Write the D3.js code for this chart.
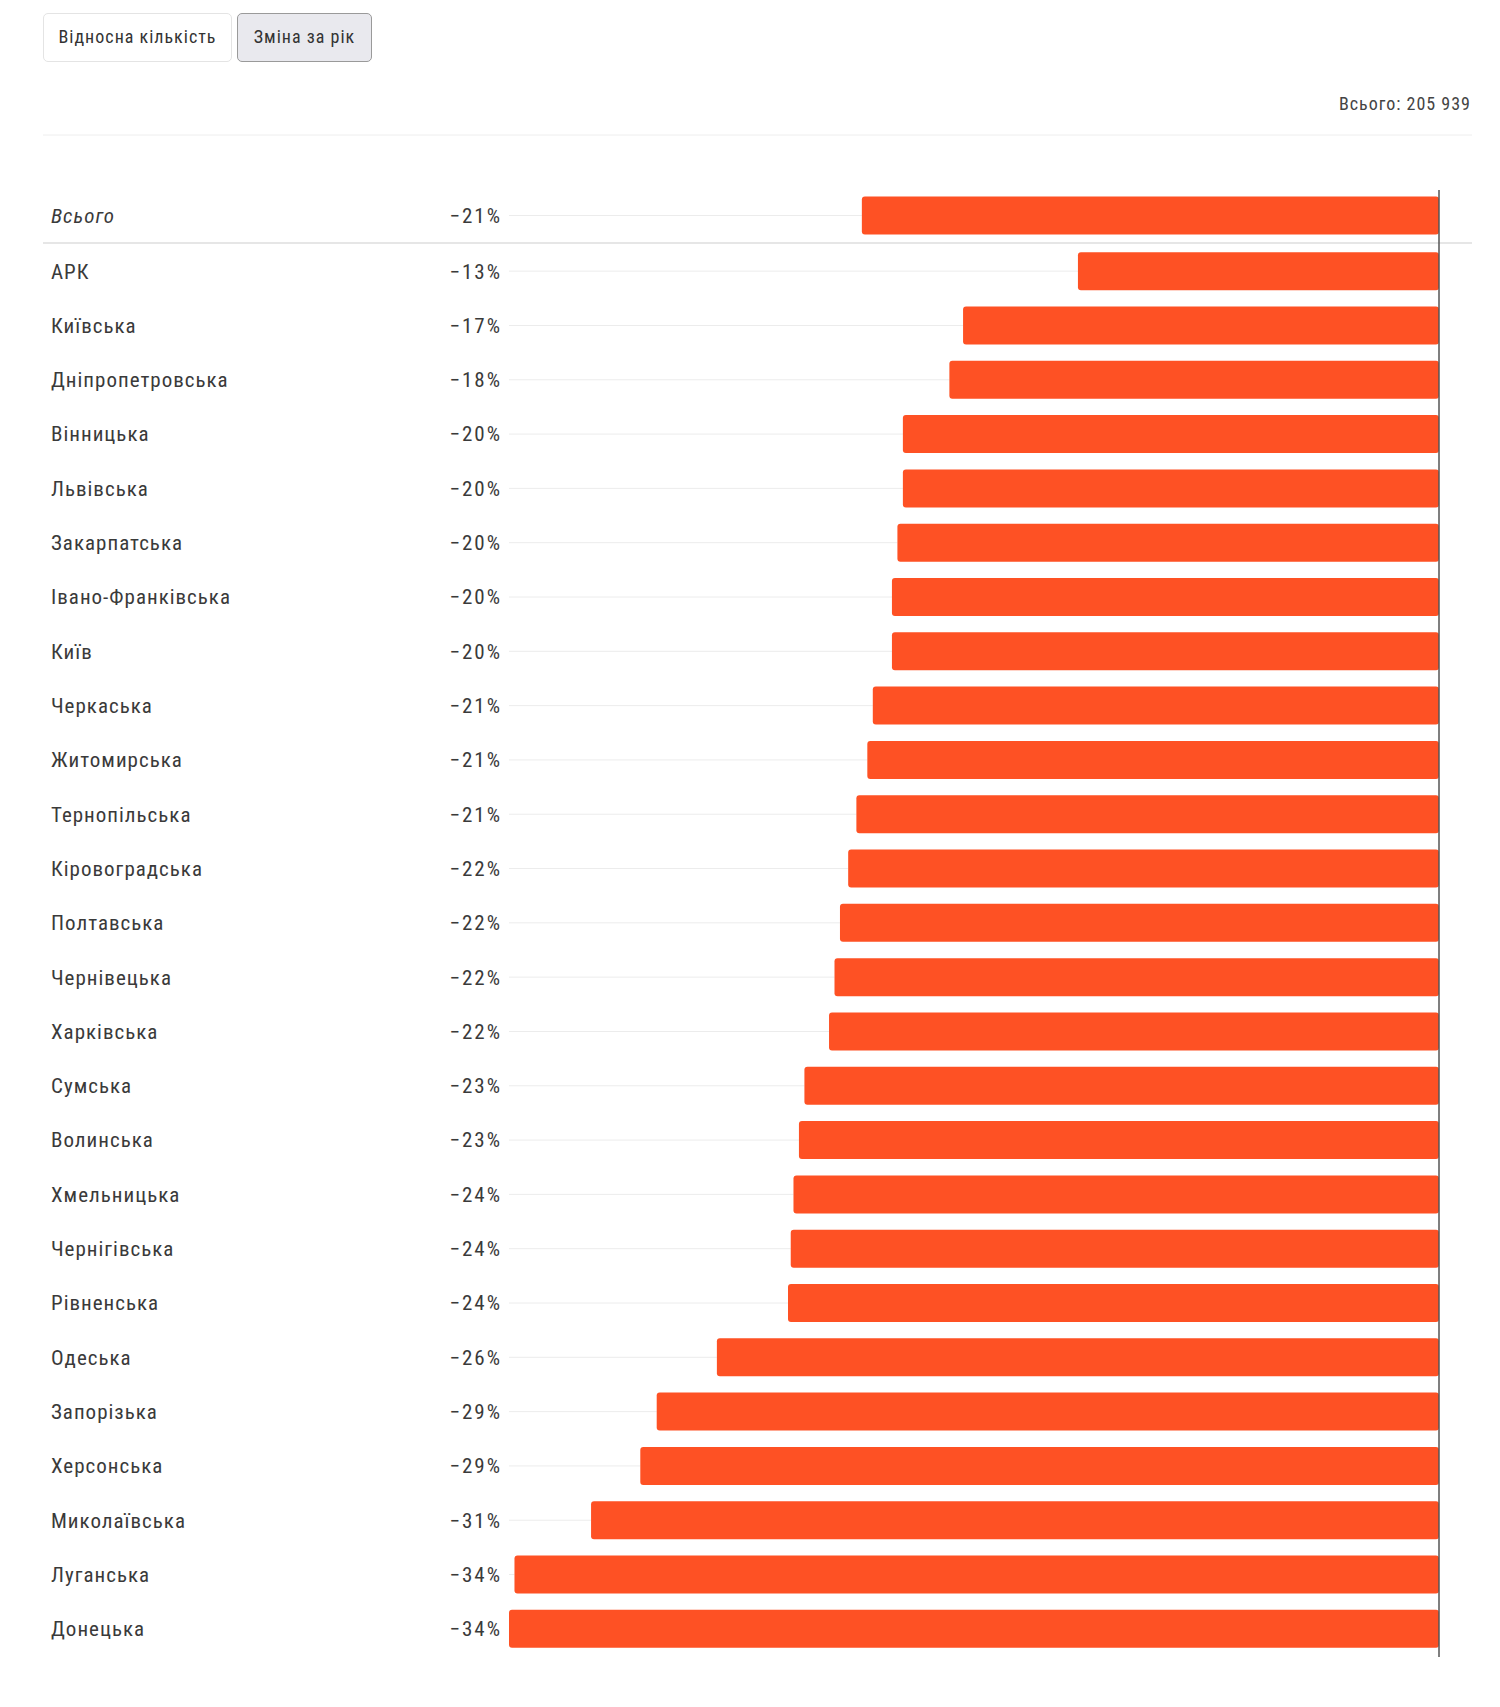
<!DOCTYPE html>
<html>
<head>
<meta charset="utf-8">
<script src="https://cdn.jsdelivr.net/npm/d3@7"></script>
<style>
  body { margin: 0; background: #fff; font-family: "Roboto Condensed", "Liberation Sans Narrow", "DejaVu Sans Condensed", Roboto, sans-serif; color: #333; }
  .btn { position: absolute; top: 13px; height: 49px; box-sizing: border-box; border-radius: 5px;
         font-size: 18px; line-height: 45px; text-align: center; color: #333; letter-spacing: 1px; }
  #b1 { left: 43px; width: 189px; background: #fff; border: 1px solid #e4e4e4; }
  #b2 { left: 237px; width: 135px; background: #e9e9ee; border: 1px solid #9a9a9a; }
</style>
</head>
<body>
<div class="btn" id="b1">Відносна кількість</div>
<div class="btn" id="b2">Зміна за рік</div>
<div id="root"></div>
<script>
// Set initial attributes
var width = 1500;
var height = 1707;

var totalLabel = 'Всього';
var totalValue = -21.1;
var grandTotal = 'Всього: 205 939';

var regions = ['АРК', 'Київська', 'Дніпропетровська', 'Вінницька', 'Львівська', 'Закарпатська',
  'Івано-Франківська', 'Київ', 'Черкаська', 'Житомирська', 'Тернопільська', 'Кіровоградська',
  'Полтавська', 'Чернівецька', 'Харківська', 'Сумська', 'Волинська', 'Хмельницька',
  'Чернігівська', 'Рівненська', 'Одеська', 'Запорізька', 'Херсонська', 'Миколаївська',
  'Луганська', 'Донецька'];
var changes = [-13.2, -17.4, -17.9, -19.6, -19.6, -19.8, -20.0, -20.0, -20.7, -20.9, -21.3, -21.6,
  -21.9, -22.1, -22.3, -23.2, -23.4, -23.6, -23.7, -23.8, -26.4, -28.6, -29.2, -31.0, -33.8, -34.0];

var data = regions.map(function(r, i) { return {name: r, value: changes[i]}; });

var svg = d3.select('#root')
  .append('svg')
    .attr('width', width)
    .attr('height', height)
    .style('position', 'absolute')
    .style('left', 0)
    .style('top', 0)
    .style('z-index', -1);

var x = d3.scaleLinear()
  .domain([-34, 0])
  .range([509, 1439]);

var y = d3.scaleBand()
  .domain(regions)
  .range([244, 1656])
  .paddingInner(0.3)
  .paddingOuter(0.15);

var barH = y.bandwidth();
var totalY = 215.5;

// header
svg.append('text')
  .attr('x', 1471)
  .attr('y', 104)
  .attr('dy', '0.35em')
  .attr('text-anchor', 'end')
  .style('font-size', '18px')
  .style('letter-spacing', '1px')
  .style('fill', '#444')
  .text(grandTotal);

svg.append('line')
  .attr('x1', 43).attr('x2', 1472)
  .attr('y1', 135).attr('y2', 135)
  .style('stroke', '#eee');

svg.append('line')
  .attr('x1', 43).attr('x2', 1472)
  .attr('y1', 243).attr('y2', 243)
  .style('stroke', '#e6e6e6')
  .style('stroke-width', 2);

var rows = [{name: totalLabel, value: totalValue, cy: totalY, total: true}]
  .concat(data.map(function(d) { return {name: d.name, value: d.value, cy: y(d.name) + barH / 2}; }));

var g = svg.selectAll('g.row')
  .data(rows)
  .enter()
  .append('g')
    .attr('class', 'row');

g.append('line')
  .attr('x1', x(-34))
  .attr('x2', function(d) { return x(d.value); })
  .attr('y1', function(d) { return d.cy; })
  .attr('y2', function(d) { return d.cy; })
  .style('stroke', '#ececec');

g.append('rect')
  .attr('x', function(d) { return x(d.value); })
  .attr('y', function(d) { return d.cy - barH / 2; })
  .attr('width', function(d) { return x(0) - x(d.value); })
  .attr('height', barH)
  .attr('rx', 3)
  .style('fill', '#fe5124');

g.append('text')
  .attr('x', 51)
  .attr('y', function(d) { return d.cy; })
  .attr('dy', '0.35em')
  .style('font-size', '21px')
  .style('letter-spacing', '1px')
  .style('font-style', function(d) { return d.total ? 'italic' : 'normal'; })
  .style('fill', '#3a3a3a')
  .text(function(d) { return d.name; });

g.append('text')
  .attr('x', 502)
  .attr('y', function(d) { return d.cy; })
  .attr('dy', '0.35em')
  .attr('text-anchor', 'end')
  .style('font-size', '21px')
  .style('letter-spacing', '2px')
  .style('fill', '#3a3a3a')
  .text(function(d) { return '−' + Math.abs(Math.round(d.value)) + '%'; });

// zero line
svg.append('line')
  .attr('x1', x(0)).attr('x2', x(0))
  .attr('y1', 190).attr('y2', 1657)
  .style('stroke', '#555')
  .style('stroke-width', 1.5);
</script>
</body>
</html>
